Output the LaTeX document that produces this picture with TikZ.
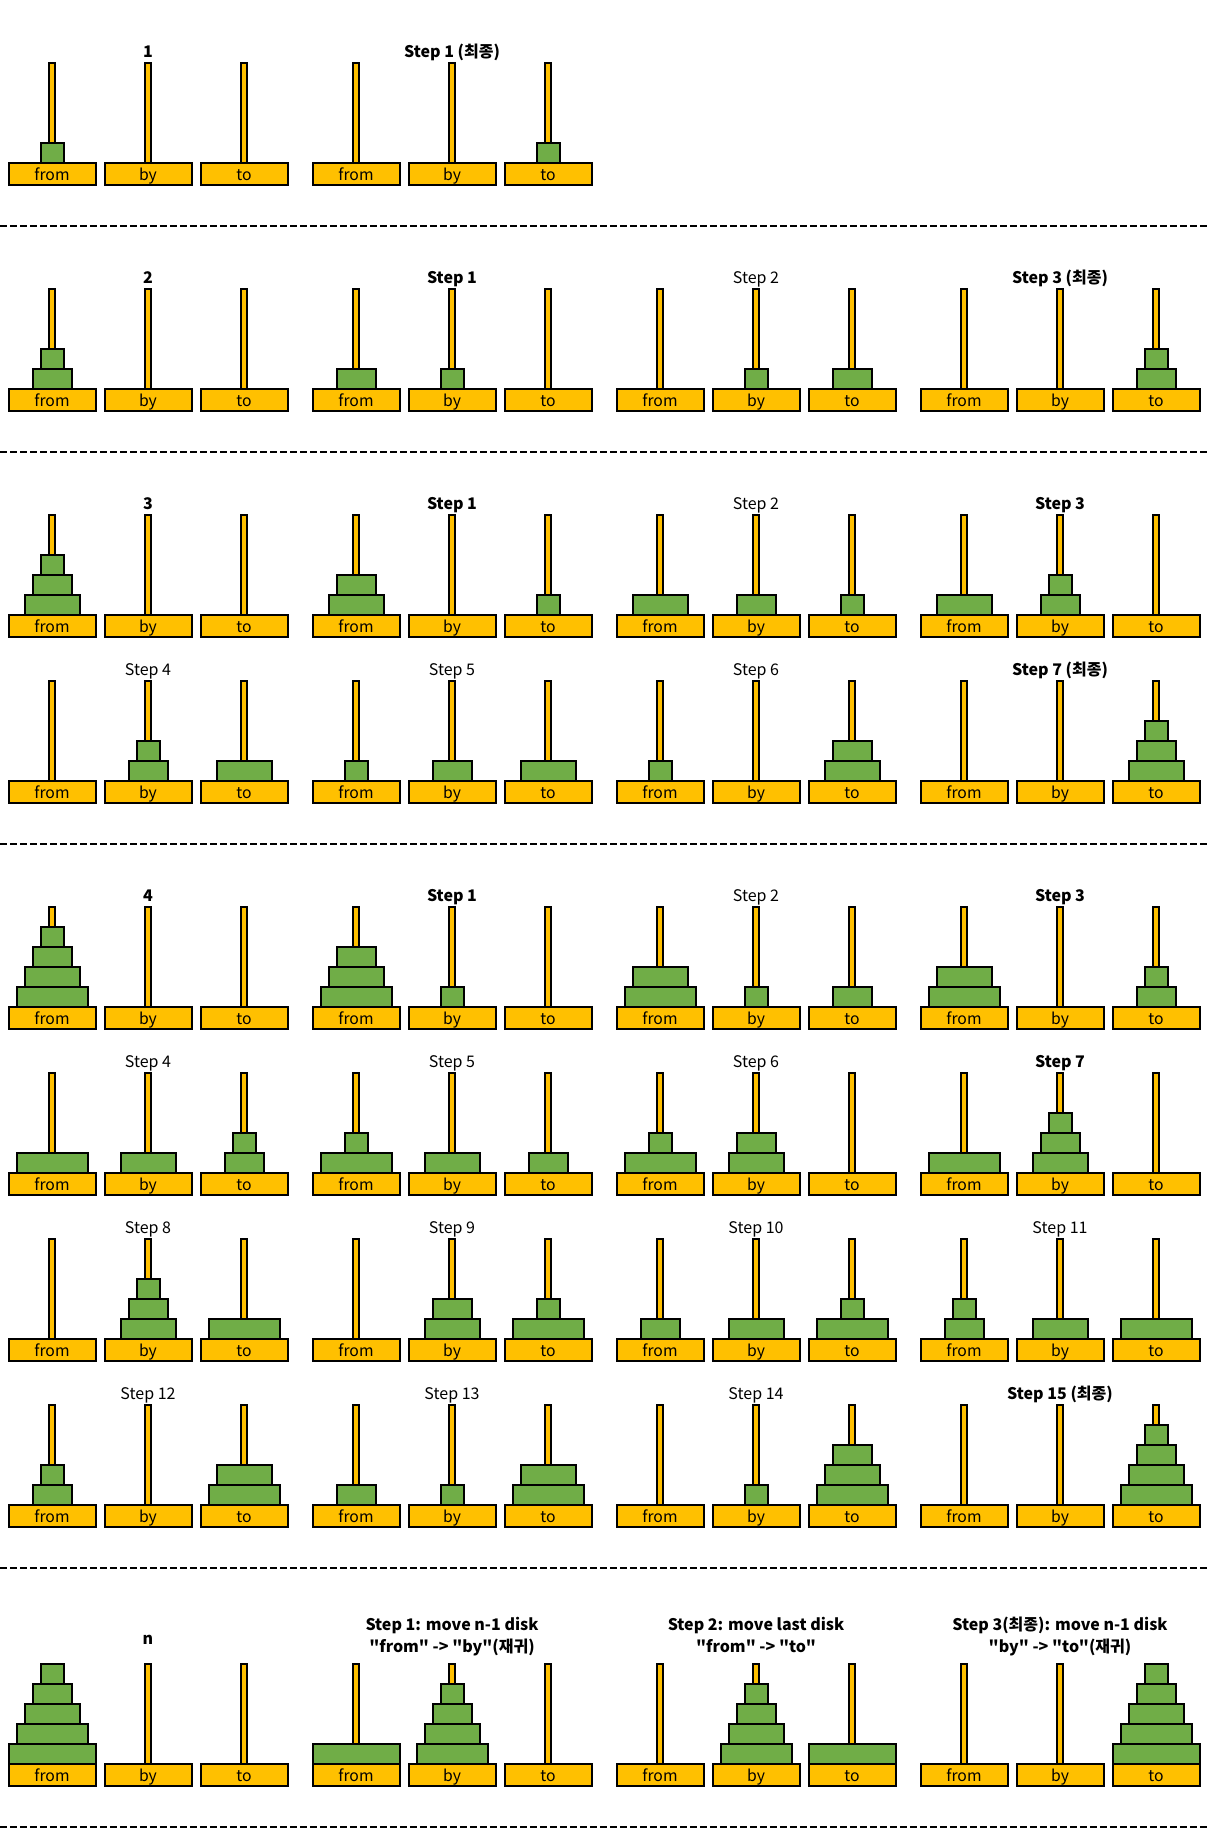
\documentclass[tikz,border=0pt]{standalone}
\usepackage{fontspec}
\setmainfont{Noto Sans CJK KR}[Ligatures=TeXReset]
\definecolor{peg}{HTML}{FFC000}
\definecolor{disc}{HTML}{70AD47}
\tikzset{
  pegbox/.style={draw=black, fill=peg, line width=1.5pt},
  diskbox/.style={draw=black, fill=disc, line width=1.5pt},
  sepline/.style={draw=black, line width=1.5pt, dash pattern=on 5pt off 2.5pt},
  ttl/.style={font=\fontsize{12pt}{14pt}\selectfont, inner sep=0pt, anchor=base},
  baselbl/.style={font=\fontsize{11.8pt}{14pt}\selectfont, inner sep=0pt, anchor=base},
}
% #1 pole centre x, #2 base top y, #3 disk sizes bottom to top (0 = none)
\newcommand\hnTower[3]{%
  \foreach \s [count=\k] in {#3}{%
    \ifnum\s>0\relax
      \draw[diskbox] ({#1-3.5-8*\s},{#2-20*\k}) rectangle ({#1+3.5+8*\s},{#2-20*\k+20});
    \fi}}
% #1 group x, #2 base top y, #3 from, #4 by, #5 to, #6 name
\newcommand\hnPanel[6]{%
  \foreach \p/\t in {0/from,1/by,2/to}{%
    \pgfmathsetmacro\cx{#1+52+96*\p}
    \draw[pegbox] (\cx-3.3,#2-99.4) rectangle (\cx+3.3,#2);
    \draw[pegbox] (\cx-43.5,#2) rectangle (\cx+43.5,#2+22.3);
    \node[baselbl] (#6\t) at (\cx,#2+18) {\t};
  }
  \hnTower{#1+52}{#2}{#3}
  \hnTower{#1+148}{#2}{#4}
  \hnTower{#1+244}{#2}{#5}}
% #1 group x, #2 base top y, #3 name, #4 text
\newcommand\hnTitle[4]{\node[ttl] (#3) at (#1+148,#2-105.4) {#4};}
\begin{document}
\begin{tikzpicture}[x=0.75pt,y=-0.75pt]
\useasboundingbox (0,0) rectangle (1209,1828);
\fill[white] (0,0) rectangle (1209,1828);

% ---- n = 1
\hnPanel{0}{162.7}{1}{0}{0}{aa}
\hnTitle{0}{162.7}{ta}{\bfseries 1}
\hnPanel{304}{162.7}{0}{0}{1}{ab}
\hnTitle{304}{162.7}{tb}{\bfseries Step 1 (최종)}
\coordinate (s1l) at (0,225.7); \coordinate (s1r) at (1209,225.7);
\draw[sepline] (s1l) -- (s1r);

% ---- n = 2
\hnPanel{0}{388.7}{2,1}{0}{0}{ba}
\hnTitle{0}{388.7}{tba}{\bfseries 2}
\hnPanel{304}{388.7}{2}{1}{0}{bb}
\hnTitle{304}{388.7}{tbb}{\bfseries Step 1}
\hnPanel{608}{388.7}{0}{1}{2}{bc}
\hnTitle{608}{388.7}{tbc}{Step 2}
\hnPanel{912}{388.7}{0}{0}{2,1}{bd}
\hnTitle{912}{388.7}{tbd}{\bfseries Step 3 (최종)}
\coordinate (s2l) at (0,451.7); \coordinate (s2r) at (1209,451.7);
\draw[sepline] (s2l) -- (s2r);

% ---- n = 3
\hnPanel{0}{614.7}{3,2,1}{0}{0}{ca}
\hnTitle{0}{614.7}{tca}{\bfseries 3}
\hnPanel{304}{614.7}{3,2}{0}{1}{cb}
\hnTitle{304}{614.7}{tcb}{\bfseries Step 1}
\hnPanel{608}{614.7}{3}{2}{1}{cc}
\hnTitle{608}{614.7}{tcc}{Step 2}
\hnPanel{912}{614.7}{3}{2,1}{0}{cd}
\hnTitle{912}{614.7}{tcd}{\bfseries Step 3}

\hnPanel{0}{780.7}{0}{2,1}{3}{da}
\hnTitle{0}{780.7}{tda}{Step 4}
\hnPanel{304}{780.7}{1}{2}{3}{db}
\hnTitle{304}{780.7}{tdb}{Step 5}
\hnPanel{608}{780.7}{1}{0}{3,2}{dc}
\hnTitle{608}{780.7}{tdc}{Step 6}
\hnPanel{912}{780.7}{0}{0}{3,2,1}{dd}
\hnTitle{912}{780.7}{tdd}{\bfseries Step 7 (최종)}
\coordinate (s3l) at (0,843.7); \coordinate (s3r) at (1209,843.7);
\draw[sepline] (s3l) -- (s3r);

% ---- n = 4
\hnPanel{0}{1006.7}{4,3,2,1}{0}{0}{ea}
\hnTitle{0}{1006.7}{tea}{\bfseries 4}
\hnPanel{304}{1006.7}{4,3,2}{1}{0}{eb}
\hnTitle{304}{1006.7}{teb}{\bfseries Step 1}
\hnPanel{608}{1006.7}{4,3}{1}{2}{ec}
\hnTitle{608}{1006.7}{tec}{Step 2}
\hnPanel{912}{1006.7}{4,3}{0}{2,1}{ed}
\hnTitle{912}{1006.7}{ted}{\bfseries Step 3}

\hnPanel{0}{1172.7}{4}{3}{2,1}{fa}
\hnTitle{0}{1172.7}{tfa}{Step 4}
\hnPanel{304}{1172.7}{4,1}{3}{2}{fb}
\hnTitle{304}{1172.7}{tfb}{Step 5}
\hnPanel{608}{1172.7}{4,1}{3,2}{0}{fc}
\hnTitle{608}{1172.7}{tfc}{Step 6}
\hnPanel{912}{1172.7}{4}{3,2,1}{0}{fd}
\hnTitle{912}{1172.7}{tfd}{\bfseries Step 7}

\hnPanel{0}{1338.7}{0}{3,2,1}{4}{ga}
\hnTitle{0}{1338.7}{tga}{Step 8}
\hnPanel{304}{1338.7}{0}{3,2}{4,1}{gb}
\hnTitle{304}{1338.7}{tgb}{Step 9}
\hnPanel{608}{1338.7}{2}{3}{4,1}{gc}
\hnTitle{608}{1338.7}{tgc}{Step 10}
\hnPanel{912}{1338.7}{2,1}{3}{4}{gd}
\hnTitle{912}{1338.7}{tgd}{Step 11}

\hnPanel{0}{1504.7}{2,1}{0}{4,3}{ha}
\hnTitle{0}{1504.7}{tha}{Step 12}
\hnPanel{304}{1504.7}{2}{1}{4,3}{hb}
\hnTitle{304}{1504.7}{thb}{Step 13}
\hnPanel{608}{1504.7}{0}{1}{4,3,2}{hc}
\hnTitle{608}{1504.7}{thc}{Step 14}
\hnPanel{912}{1504.7}{0}{0}{4,3,2,1}{hd}
\hnTitle{912}{1504.7}{thd}{\bfseries Step 15 (최종)}
\coordinate (s4l) at (0,1567.7); \coordinate (s4r) at (1209,1567.7);
\draw[sepline] (s4l) -- (s4r);

% ---- n
\hnPanel{0}{1763.7}{5,4,3,2,1}{0}{0}{ia}
\node[ttl] (tia) at (148,1644) {\bfseries n};
\hnPanel{304}{1763.7}{5}{4,3,2,1}{0}{ib}
\node[ttl] (tib1) at (452,1630) {\bfseries Step 1: move n-1 disk};
\node[ttl] (tib2) at (452,1652.7) {\bfseries "from" -> "by"(재귀)};
\hnPanel{608}{1763.7}{0}{4,3,2,1}{5}{ic}
\node[ttl] (tic1) at (756,1630) {\bfseries Step 2: move last disk};
\node[ttl] (tic2) at (756,1652.7) {\bfseries "from" -> "to"};
\hnPanel{912}{1763.7}{0}{0}{5,4,3,2,1}{id}
\node[ttl] (tid1) at (1060,1630) {\bfseries Step 3(최종): move n-1 disk};
\node[ttl] (tid2) at (1060,1652.7) {\bfseries "by" -> "to"(재귀)};
\coordinate (s5l) at (0,1826.7); \coordinate (s5r) at (1209,1826.7);
\draw[sepline] (s5l) -- (s5r);
\end{tikzpicture}
\end{document}
